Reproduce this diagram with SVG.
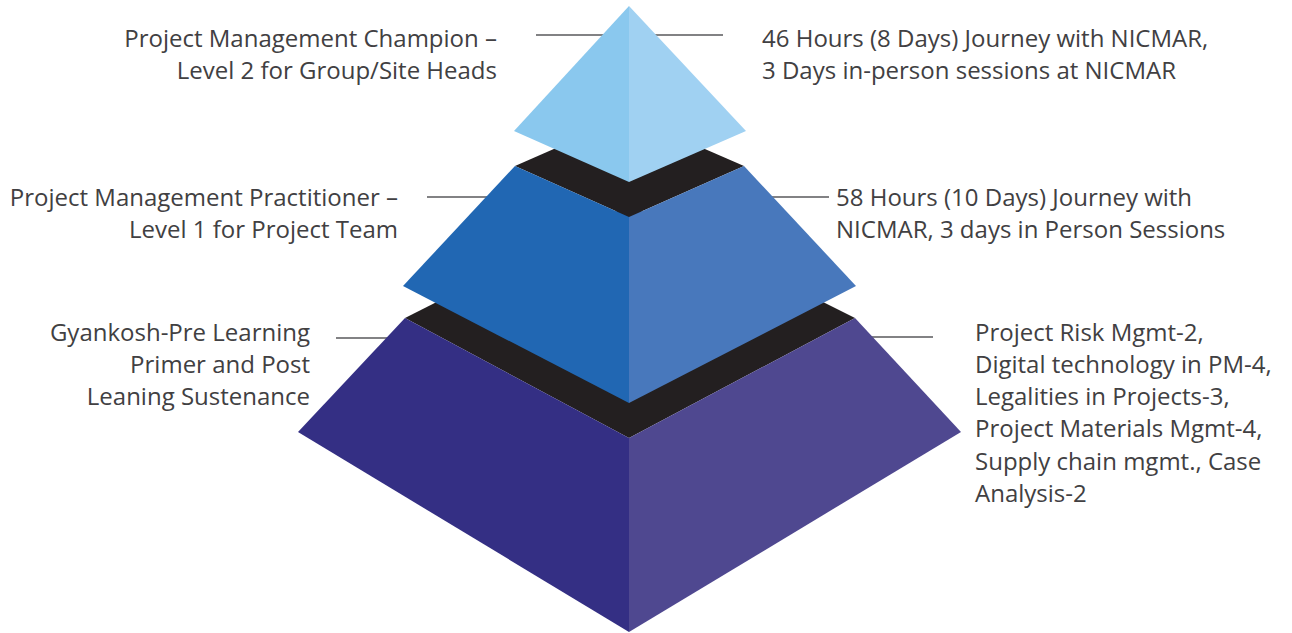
<svg xmlns="http://www.w3.org/2000/svg" width="1292" height="633" viewBox="0 0 1292 633">
<style>
.t{font-family:"Open Sans","Liberation Sans",sans-serif;font-size:24px;fill:#414042}
.r{text-anchor:end}
.ln{stroke:#58595B;stroke-width:1.6;fill:none}
.blk{fill:#231F20}
</style>
<rect width="1292" height="633" fill="#fff"/>
<g id="connectors">
<line class="ln" x1="536" y1="35" x2="615" y2="35"/>
<line class="ln" x1="723" y1="35" x2="645" y2="35"/>
<line class="ln" x1="427" y1="197" x2="500" y2="197"/>
<line class="ln" x1="829" y1="197" x2="760" y2="197"/>
<line class="ln" x1="336" y1="338" x2="400" y2="338"/>
<line class="ln" x1="933" y1="337" x2="862" y2="337"/>
</g>
<g id="tier-bottom">
<polygon class="blk" points="405,318 629,205 855,318 629,438"/>
<polygon fill="#342F84" points="405,318 629,438 629,632 298,432"/>
<polygon fill="#4F4890" points="629,438 855,318 961,432 629,632"/>
</g>
<g id="tier-middle">
<polygon class="blk" points="515,166 629,116 744,166 629,217"/>
<polygon fill="#2167B3" points="515,166 629,217 629,403 403,286"/>
<polygon fill="#4878BC" points="629,217 744,166 856,286 629,403"/>
</g>
<g id="tier-top">
<polygon fill="#8AC8EE" points="629,6 514,131 629,182"/>
<polygon fill="#A0D1F2" points="629,6 746,131 629,182"/>
</g>
<g id="label-top-left">
<text class="t r" x="497" y="47">Project Management Champion –</text>
<text class="t r" x="497" y="79">Level 2 for Group/Site Heads</text>
</g>
<g id="label-top-right">
<text class="t" x="762" y="47">46 Hours (8 Days) Journey with NICMAR,</text>
<text class="t" x="762" y="79">3 Days in-person sessions at NICMAR</text>
</g>
<g id="label-middle-left">
<text class="t r" x="398" y="206">Project Management Practitioner –</text>
<text class="t r" x="398" y="238">Level 1 for Project Team</text>
</g>
<g id="label-middle-right">
<text class="t" x="836" y="206">58 Hours (10 Days) Journey with</text>
<text class="t" x="836" y="238">NICMAR, 3 days in Person Sessions</text>
</g>
<g id="label-bottom-left">
<text class="t r" x="310" y="341">Gyankosh-Pre Learning</text>
<text class="t r" x="310" y="373">Primer and Post</text>
<text class="t r" x="310" y="405">Leaning Sustenance</text>
</g>
<g id="label-bottom-right">
<text class="t" x="975" y="341">Project Risk Mgmt-2,</text>
<text class="t" x="975" y="373">Digital technology in PM-4,</text>
<text class="t" x="975" y="405">Legalities in Projects-3,</text>
<text class="t" x="975" y="437">Project Materials Mgmt-4,</text>
<text class="t" x="975" y="470">Supply chain mgmt., Case</text>
<text class="t" x="975" y="502">Analysis-2</text>
</g>
</svg>
